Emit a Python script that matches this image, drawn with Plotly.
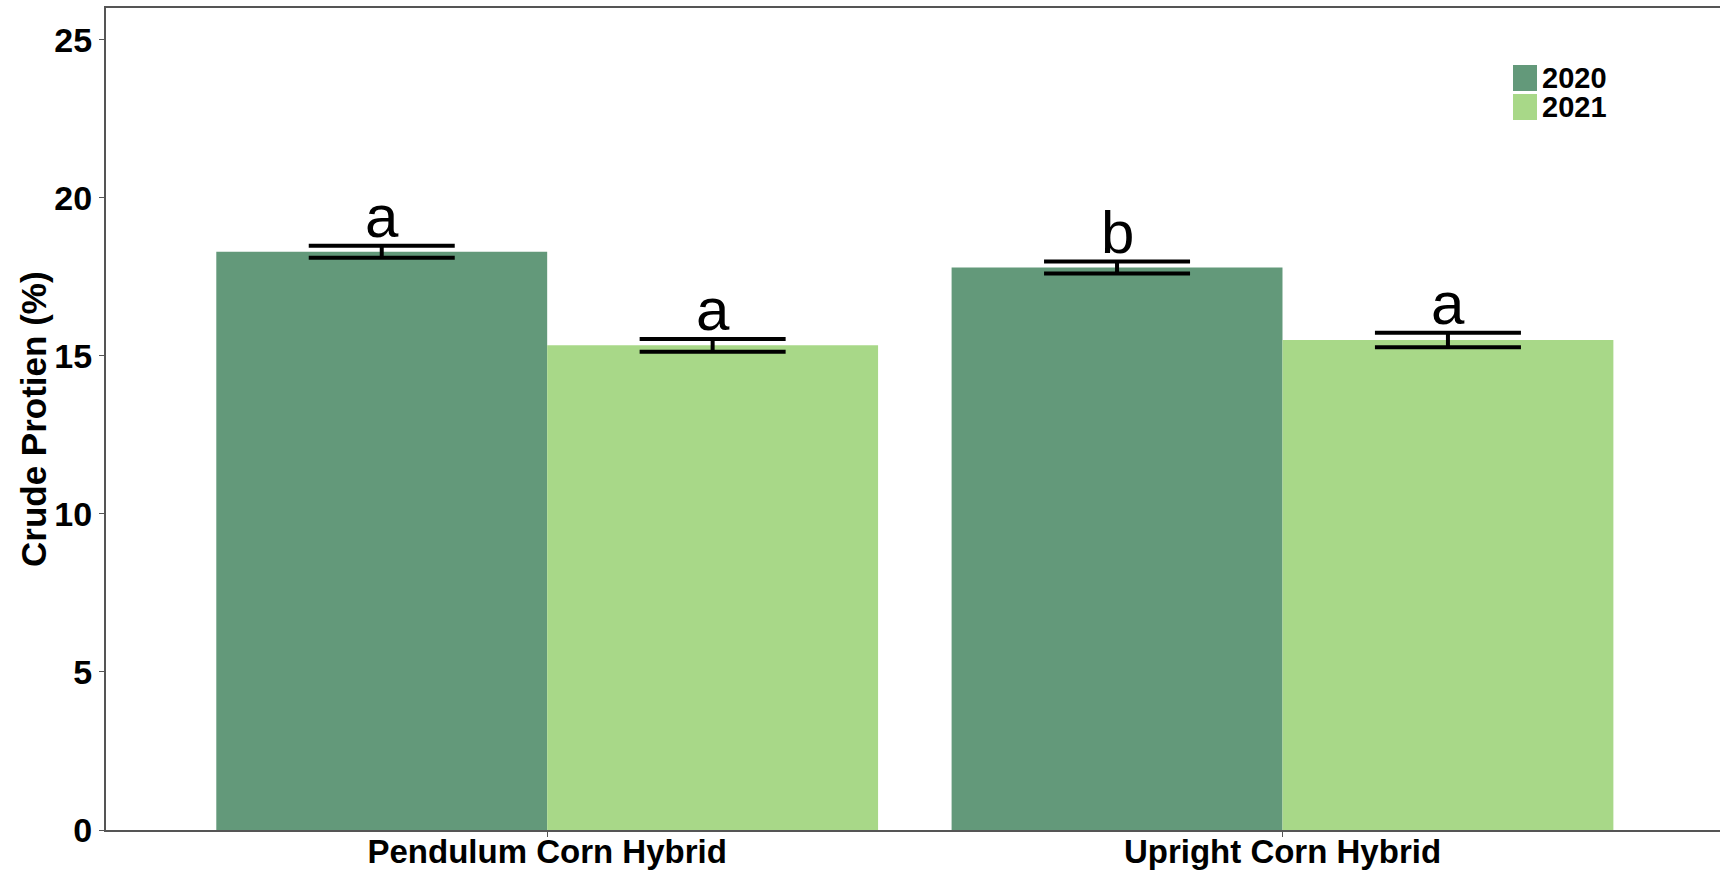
import plotly.graph_objects as go

categories = ["Pendulum Corn Hybrid", "Upright Corn Hybrid"]
years = ["2020", "2021"]
values_2020 = [18.29, 17.79]
values_2021 = [15.33, 15.50]
se_2020 = [0.19, 0.19]
se_2021 = [0.20, 0.23]
letters_2020 = ["a", "b"]
letters_2021 = ["a", "a"]
y_ticks = [0, 5, 10, 15, 20, 25]

colors = ["#63997a", "#a8d888"]
FONT = "Liberation Sans, Arial, sans-serif"

xpos = list(range(len(categories)))
fig = go.Figure()
series = [(values_2020, se_2020, letters_2020), (values_2021, se_2021, letters_2021)]
for k, (vals, se, lets) in enumerate(series):
    fig.add_trace(go.Bar(
        x=xpos, y=vals, name=years[k], marker=dict(color=colors[k], line=dict(width=0)),
        error_y=dict(type="data", array=se, visible=True, color="black", thickness=4, width=73),
        showlegend=False,
    ))
    off = -0.225 if k == 0 else 0.225
    for i, (v, s, t) in enumerate(zip(vals, se, lets)):
        fig.add_annotation(x=xpos[i] + off, y=v + s, text=t, showarrow=False,
                           xref="x", yref="y", yanchor="bottom", yshift=-6,
                           font=dict(family=FONT, size=60, color="black"))

# legend drawn manually
leg_x0, leg_y0 = 1513, 65
for k, yr in enumerate(years):
    y0 = leg_y0 + k * 29
    fig.add_shape(type="rect", xref="paper", yref="paper",
                  x0=(leg_x0 - 106) / 1614, x1=(leg_x0 + 24 - 106) / 1614,
                  y0=1 - (y0 + 26 - 8) / 822, y1=1 - (y0 - 8) / 822,
                  fillcolor=colors[k], line=dict(width=0))
    fig.add_annotation(xref="paper", yref="paper", x=(leg_x0 + 27 - 106) / 1614,
                       y=1 - (y0 + 13 - 8) / 822, text="<b>%s</b>" % yr, showarrow=False,
                       xanchor="left", yanchor="middle",
                       font=dict(family=FONT, size=29, color="black"))

fig.add_annotation(xref="paper", yref="paper", x=0, y=0.5, xshift=-73,
                   text="<b>Crude Protien (%)</b>", textangle=-90, showarrow=False,
                   xanchor="center", yanchor="middle",
                   font=dict(family=FONT, size=35, color="black"))

fig.update_layout(
    width=1720, height=873,
    margin=dict(l=106, r=0, t=8, b=43, pad=0),
    plot_bgcolor="white", paper_bgcolor="white",
    barmode="group", bargap=0.1, bargroupgap=0,
    xaxis=dict(range=[-0.6, 1.595], tickvals=xpos, ticktext=["<b>%s</b>" % c for c in categories],
               showline=True, linecolor="#555555", linewidth=2, mirror=True, automargin=False,
               ticks="outside", ticklen=5, tickcolor="#555555", showgrid=False, zeroline=False,
               ticklabelstandoff=-14,
               tickfont=dict(family=FONT, size=33, color="black")),
    yaxis=dict(range=[0, 26], tickvals=y_ticks, ticktext=["<b>%d</b>" % v for v in y_ticks],
               showline=True, linecolor="#555555", linewidth=2, automargin=False,
               ticks="outside", ticklen=5, tickcolor="#555555", showgrid=False, zeroline=False,
               tickfont=dict(family=FONT, size=34, color="black")),
    showlegend=False,
)

fig.write_html("out.html")
